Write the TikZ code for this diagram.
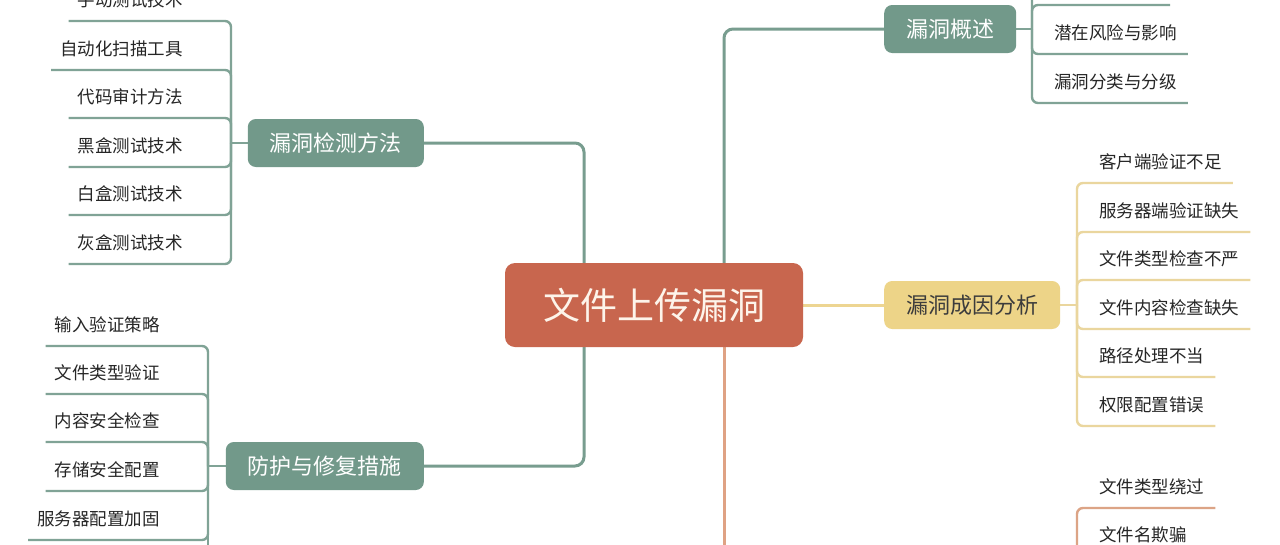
\documentclass[tikz,border=0pt]{standalone}
\usepackage{fontspec}
\setmainfont{Noto Sans CJK SC}
\usetikzlibrary{backgrounds}
\definecolor{tealfill}{HTML}{72998A}
\definecolor{tealline}{HTML}{789D8F}
\definecolor{tealsub}{HTML}{80A396}
\definecolor{yelfill}{HTML}{EDD488}
\definecolor{yelline}{HTML}{EDD592}
\definecolor{yelsub}{HTML}{EAD69E}
\definecolor{redfill}{HTML}{C8664E}
\definecolor{orgline}{HTML}{DFA284}
\definecolor{orgsub}{HTML}{DCA486}
\definecolor{txt}{HTML}{262626}
\definecolor{cream}{HTML}{FDF4EA}
\begin{document}
\begin{tikzpicture}[x=1pt,y=-1pt,
  mainbox/.style={rounded corners=8pt, minimum height=48pt, inner xsep=22pt, inner ysep=0pt,
    font=\fontsize{22}{26}\selectfont, text=white, fill=tealfill},
  itemL/.style={minimum height=42pt, inner xsep=9pt, inner ysep=0pt,
    font=\fontsize{17.5}{21}\selectfont, text=txt},
  itemR/.style={minimum height=42pt, inner xsep=11pt, inner ysep=0pt,
    font=\fontsize{17.5}{21}\selectfont, text=txt},
  mainline/.style={line width=3pt, rounded corners=9pt},
  subline/.style={line width=2.4pt, rounded corners=6pt}]
\useasboundingbox (0,0) rectangle (1280,544);
\clip (0,0) rectangle (1280,544);

% central and main branch nodes
\node[rounded corners=10pt, minimum width=298pt, minimum height=84pt, fill=redfill, text=cream,
  font=\fontsize{37}{42}\selectfont, inner sep=0pt] (center) at (654,305) {文件上传漏洞};
\node[mainbox, anchor=east] (det) at (424,143) {漏洞检测方法};
\node[mainbox, anchor=east] (prot) at (424,466) {防护与修复措施};
\node[mainbox, anchor=west] (ov) at (884,29) {漏洞概述};
\node[mainbox, anchor=west, fill=yelfill, text=txt!90] (cause) at (884,305) {漏洞成因分析};

% left top items
\node[itemL, anchor=south east] (d1) at (192,21) {手动测试技术};
\node[itemL, anchor=south east] (d2) at (192,70) {自动化扫描工具};
\node[itemL, anchor=south east] (d3) at (192,118) {代码审计方法};
\node[itemL, anchor=south east] (d4) at (192,167) {黑盒测试技术};
\node[itemL, anchor=south east] (d5) at (192,215) {白盒测试技术};
\node[itemL, anchor=south east] (d6) at (192,264) {灰盒测试技术};

% left bottom items
\node[itemL, anchor=south east] (p1) at (169,346) {输入验证策略};
\node[itemL, anchor=south east] (p2) at (169,394) {文件类型验证};
\node[itemL, anchor=south east] (p3) at (169,442) {内容安全检查};
\node[itemL, anchor=south east] (p4) at (169,491) {存储安全配置};
\node[itemL, anchor=south east] (p5) at (169,540) {服务器配置加固};

% right top items
\node[itemR, anchor=south west] (o2) at (1043,54) {潜在风险与影响};
\node[itemR, anchor=south west] (o3) at (1043,103) {漏洞分类与分级};
\coordinate (o1) at (1170,5);
\coordinate (o0) at (1170,-43);

% cause items
\node[itemR, anchor=south west] (c1) at (1088,183) {客户端验证不足};
\node[itemR, anchor=south west] (c2) at (1088,232) {服务器端验证缺失};
\node[itemR, anchor=south west] (c3) at (1088,280) {文件类型检查不严};
\node[itemR, anchor=south west] (c4) at (1088,329) {文件内容检查缺失};
\node[itemR, anchor=south west] (c5) at (1088,377) {路径处理不当};
\node[itemR, anchor=south west] (c6) at (1088,426) {权限配置错误};

% orange items
\node[itemR, anchor=south west] (a1) at (1088,508) {文件类型绕过};
\node[itemR, anchor=south west] (a2) at (1088,556) {文件名欺骗};

% junctions
\coordinate (cL) at (584,305);
\coordinate (cR) at (724,305);
\coordinate (jd) at (231,143);
\coordinate (jp) at (208,466);
\coordinate (jo) at (1032,29);
\coordinate (jc) at (1077,305);
\coordinate (ja) at (1077,640);
\coordinate (orgend) at (724,600);
\coordinate (pend) at (208,600);

\begin{scope}[on background layer]
  \clip (0,0) rectangle (1280,544);
  \fill[white] (0,0) rectangle (1280,544);
  \draw[mainline, tealline] (cL) |- (det.east);
  \draw[mainline, tealline] (cL) |- (prot.east);
  \draw[mainline, tealline] (cR) |- (ov.west);
  \draw[mainline, yelline] (center.east) -- (cause.west);
  \draw[mainline, orgline] (cR) -- (orgend);

  \draw[subline, tealsub] (det.west) -- (jd);
  \foreach \n in {d1,d2,d3,d4,d5,d6} \draw[subline, tealsub] (jd) |- (\n.south west);

  \draw[subline, tealsub] (prot.west) -- (jp);
  \foreach \n in {p1,p2,p3,p4,p5} \draw[subline, tealsub] (jp) |- (\n.south west);
  \draw[subline, tealsub] (jp) -- (pend);

  \draw[subline, tealsub] (ov.east) -- (jo);
  \foreach \n in {o2,o3} \draw[subline, tealsub] (jo) |- (\n.south east);
  \draw[subline, tealsub] (jo) |- (o1);
  \draw[subline, tealsub] (jo) |- (o0);

  \draw[subline, yelsub] (cause.east) -- (jc);
  \foreach \n in {c1,c2,c3,c4,c5,c6} \draw[subline, yelsub] (jc) |- (\n.south east);

  \foreach \n in {a1,a2} \draw[subline, orgsub] (ja) |- (\n.south east);
\end{scope}
\end{tikzpicture}
\end{document}
